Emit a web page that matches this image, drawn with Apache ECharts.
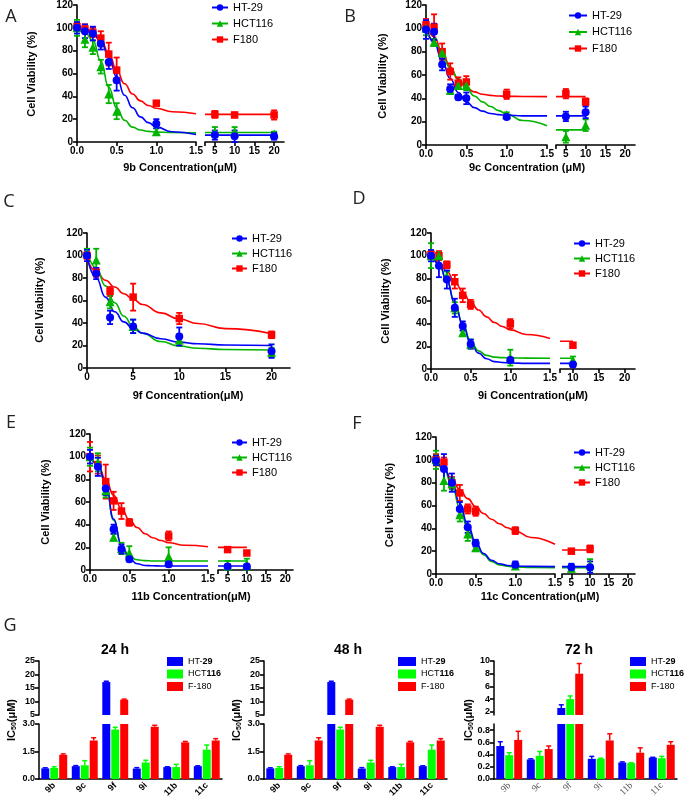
<!DOCTYPE html>
<html><head><meta charset="utf-8">
<script src="https://cdn.jsdelivr.net/npm/echarts@6/dist/echarts.min.js"></script>
<style>html,body{margin:0;padding:0;background:#fff}#c{width:685px;height:800px}</style>
</head><body><div id="c"></div>
<script>
// ===================== DATA =====================
const cellLines = ['HT-29', 'HCT116', 'F180'];
const fitX = [0, 0.1, 0.2, 0.3, 0.4, 0.5, 0.6, 0.7, 0.8, 0.9, 1.0, 1.2, 1.5];

// Panel A - 9b
const A_conc = [0, 0.1, 0.2, 0.3, 0.4, 0.5, 1, 5, 10, 20];
const A_HT29 = [100, 97, 95, 86, 70, 54, 16, 6, 5, 5];
const A_HT29_sd = [5, 6, 6, 5, 6, 9, 4, 4, 5, 3];
const A_HCT116 = [100, 90, 83, 66, 42, 27, 9, 9, 9, 7];
const A_HCT116_sd = [7, 7, 6, 6, 8, 7, 3, 4, 4, 2];
const A_F180 = [101, 99, 96, 91, 77, 63, 34, 24, 23.5, 23.5];
const A_F180_sd = [4, 4, 4, 6, 10, 11, 2, 3, 2, 4];
const A_fit_HT29 = [100, 98.5, 95, 88, 75, 57, 41, 30, 22, 17, 13, 9, 6.5];
const A_fit_HCT116 = [100, 96, 89, 71, 48, 30, 19, 13, 10.5, 9.3, 8.7, 8.3, 8];
const A_fit_F180 = [100, 99, 96, 90, 78, 63, 51, 42, 36, 32, 29.5, 26.5, 24.8];
const A_plateau = [6, 8.3, 24];

// Panel B - 9c
const B_conc = [0, 0.1, 0.2, 0.3, 0.4, 0.5, 1, 5, 10];
const B_HT29 = [99, 97, 69, 48, 41, 40, 24, 24.5, 28];
const B_HT29_sd = [8, 7, 5, 4, 2, 5, 1, 4, 5];
const B_HCT116 = [100, 88, 79, 47, 51, 51, 26, 7, 17];
const B_HCT116_sd = [6, 3, 3, 3, 3, 4, 2, 5, 5];
const B_F180 = [103, 101, 80, 63, 53, 54, 43.5, 44, 37];
const B_F180_sd = [5, 11, 7, 7, 5, 5, 4, 4, 3];
const B_fit_HT29 = [102, 88, 72, 57, 45, 37, 32, 29, 27, 26, 25.5, 25, 25];
const B_fit_HCT116 = [100, 89, 77, 66, 57, 49, 42, 37, 33, 29.5, 26.5, 21, 16.5];
const B_fit_F180 = [104, 93, 80, 67, 56, 49, 45.5, 43.5, 42.5, 42, 41.8, 41.6, 41.5];
const B_plateau = [25, 13, 41.5];

// Panel C - 9f
const C_conc = [0, 1, 2.5, 5, 10, 20];
const C_HT29 = [100, 84, 45, 37, 28, 15];
const C_HT29_sd = [5, 5, 6, 6, 8, 6];
const C_HCT116 = [102, 96, 59, 37, 25, 14];
const C_HCT116_sd = [4, 10, 6, 6, 5, 4];
const C_F180 = [100, 85, 68, 63, 44, 29.5];
const C_F180_sd = [3, 4, 4, 12, 5, 3];
const C_fitX = [0, 1, 2, 3, 4, 5, 6, 8, 10, 12, 15, 20];
const C_fit_HT29 = [99, 80, 63, 50, 41, 35, 31, 26, 23, 21.5, 20.5, 20];
const C_fit_HCT116 = [103, 89, 73, 58, 46, 37, 31, 23.5, 19.5, 17.5, 16.5, 16];
const C_fit_F180 = [97, 86, 78, 72, 66, 61, 56.5, 49, 43.5, 39.5, 35, 30.5];

// Panel D - 9i
const D_conc = [0, 0.1, 0.2, 0.3, 0.4, 0.5, 1, 10];
const D_HT29 = [100, 91, 79, 54, 38, 22, 8, 4];
const D_HT29_sd = [5, 10, 8, 8, 4, 4, 2, 2];
const D_HCT116 = [100, 100, 82, 54, 32, 22, 10, 8];
const D_HCT116_sd = [11, 3, 4, 5, 2, 4, 7, 3];
const D_F180 = [101, 100, 92, 77, 65, 57, 40, 21];
const D_F180_sd = [3, 4, 3, 6, 6, 4, 4, 2];
const D_fit_HT29 = [102, 93, 78, 58, 39, 23, 14, 9, 6.5, 5.7, 5.3, 5, 5];
const D_fit_HCT116 = [102, 93, 78, 58, 40, 24.5, 16, 12, 10.5, 10, 9.8, 9.6, 9.5];
const D_fit_F180 = [102, 94, 86, 77, 68, 59, 52, 46, 41, 37.5, 34.5, 30.5, 27];
const D_plateau = [5, 9.5, 24.5];

// Panel E - 11b
const E_conc = [0, 0.1, 0.2, 0.3, 0.4, 0.5, 1, 5, 10];
const E_HT29 = [100, 91, 72, 36, 18.5, 9.5, 5, 3, 3];
const E_HT29_sd = [6, 8, 6, 4, 4, 2, 2, 2, 2];
const E_HCT116 = [100, 95, 70, 29, 19, 15, 12, 4, 5];
const E_HCT116_sd = [8, 8, 6, 3, 5, 6, 8, 4, 5];
const E_F180 = [100, 93, 78, 61, 52, 42, 30, 18, 15];
const E_F180_sd = [13, 8, 15, 8, 7, 3, 4, 1, 1];
const E_fit_HT29 = [101, 93, 76, 45, 22, 10, 5.5, 4, 3.7, 3.5, 3.5, 3.5, 3.5];
const E_fit_HCT116 = [101, 93, 76, 44, 22, 12, 9, 8.3, 8, 8, 8, 8, 8];
const E_fit_F180 = [101, 93, 80, 66, 54, 44.5, 37.5, 32, 28.5, 26, 24, 21.8, 20.5];
const E_plateau = [3.5, 8, 20];

// Panel F - 11c
const F_conc = [0, 0.1, 0.2, 0.3, 0.4, 0.5, 1, 5, 10];
const F_HT29 = [99.5, 92, 80, 57, 41, 27, 8, 6, 6];
const F_HT29_sd = [4, 13, 8, 6, 5, 3, 3, 3, 5];
const F_HCT116 = [100, 82, 79, 52, 35, 23, 7, 5, 8];
const F_HCT116_sd = [8, 9, 5, 6, 6, 3, 2, 3, 5];
const F_F180 = [100, 98, 80, 71, 57, 55, 38, 20, 22];
const F_F180_sd = [5, 4, 5, 7, 4, 4, 3, 2, 3];
const F_fit_HT29 = [101, 93, 81, 62, 43, 28, 18, 12, 9, 7.5, 7, 6.7, 6.5];
const F_fit_HCT116 = [101, 92, 78, 58, 40, 26, 17, 11, 8, 6.8, 6, 5.7, 5.5];
const F_fit_F180 = [101, 92, 83, 74, 66, 59, 53, 48, 44, 40.5, 37.5, 32, 26];
const F_plateau = [6.5, 5.5, 21];

// Panel G - IC50 (uM)
const compounds = ['9b', '9c', '9f', '9i', '11b', '11c'];
const barNames = ['HT-29', 'HCT116', 'F-180'];
const IC24_HT29 = [0.58, 0.70, 17.2, 0.57, 0.65, 0.70];
const IC24_HT29_sd = [0.03, 0.03, 0.3, 0.05, 0.02, 0.02];
const IC24_HCT116 = [0.60, 0.75, 2.7, 0.90, 0.65, 1.60];
const IC24_HCT116_sd = [0.07, 0.25, 0.12, 0.12, 0.15, 0.25];
const IC24_F180 = [1.32, 2.10, 10.7, 2.85, 2.00, 2.10];
const IC24_F180_sd = [0.05, 0.15, 0.2, 0.08, 0.05, 0.1];
const IC48_HT29 = [0.58, 0.70, 17.2, 0.57, 0.65, 0.70];
const IC48_HT29_sd = [0.03, 0.03, 0.3, 0.05, 0.02, 0.02];
const IC48_HCT116 = [0.60, 0.75, 2.7, 0.90, 0.65, 1.60];
const IC48_HCT116_sd = [0.07, 0.25, 0.12, 0.12, 0.15, 0.25];
const IC48_F180 = [1.32, 2.10, 10.7, 2.85, 2.00, 2.10];
const IC48_F180_sd = [0.05, 0.15, 0.2, 0.08, 0.05, 0.1];
const IC72_HT29 = [0.54, 0.32, 2.6, 0.33, 0.27, 0.35];
const IC72_HT29_sd = [0.07, 0.01, 0.5, 0.04, 0.01, 0.005];
const IC72_HCT116 = [0.39, 0.38, 4.0, 0.33, 0.26, 0.34];
const IC72_HCT116_sd = [0.04, 0.07, 0.5, 0.01, 0.005, 0.03];
const IC72_F180 = [0.64, 0.49, 8.0, 0.63, 0.43, 0.56];
const IC72_F180_sd = [0.14, 0.05, 1.6, 0.11, 0.08, 0.05];

// ===================== BUILD =====================
const FONT = "'Liberation Sans', Arial, sans-serif";
const COL = {'HT-29': '#0000ff', 'HCT116': '#00b400', 'F180': '#ff0000'};
const SYM = {'HT-29': 'circle', 'HCT116': 'triangle', 'F180': 'rect'};
const SSZ = {'HT-29': 8, 'HCT116': 9, 'F180': 7.5};
const BCOL = ['#0000ff', '#00ff00', '#ff0000'];

const option = {animation: false, backgroundColor: '#fff', grid: [], xAxis: [], yAxis: [], series: [], legend: [], graphic: []};

function labelStyle(extra) {
  return Object.assign({color: '#000', fontFamily: FONT, fontWeight: 'bold', fontSize: 10, margin: 4}, extra || {});
}
function lineAxis() { return {onZero: false, lineStyle: {color: '#000', width: 1.6}}; }
function tickStyle(extra) { return Object.assign({show: true, length: 4, lineStyle: {color: '#000', width: 1.6}}, extra || {}); }

function addText(x, y, text, size, weight, opts) {
  opts = opts || {};
  option.graphic.push({
    type: 'text', x: x, y: y, rotation: opts.rot || 0, silent: true,
    style: {text: text, fontSize: size, fontWeight: weight, fontFamily: opts.family || FONT,
      fill: opts.color || '#000', align: 'center', verticalAlign: 'middle', rich: opts.rich}
  });
}

function errSeries(gi, pts, color, cap) {
  return {
    type: 'custom', xAxisIndex: gi, yAxisIndex: gi, data: pts, silent: true, z: 3,
    renderItem: function (params, api) {
      const x = api.value(0), y = api.value(1), e = api.value(2);
      const hi = api.coord([x, y + e]), lo = api.coord([x, y - e]);
      const st = {stroke: color, lineWidth: 1.8};
      return {type: 'group', children: [
        {type: 'line', shape: {x1: hi[0], y1: hi[1], x2: lo[0], y2: lo[1]}, style: st},
        {type: 'line', shape: {x1: hi[0] - cap, y1: hi[1], x2: hi[0] + cap, y2: hi[1]}, style: st},
        {type: 'line', shape: {x1: lo[0] - cap, y1: lo[1], x2: lo[0] + cap, y2: lo[1]}, style: st}
      ]};
    }
  };
}

function linePanel(P) {
  const gIdx = [];
  P.segs.forEach(function (s, i) {
    option.grid.push({left: s.left, top: P.top, width: s.width, height: P.height});
    const gi = option.grid.length - 1;
    gIdx.push(gi);
    const xa = {
      type: 'value', gridIndex: gi, min: s.min, max: s.max,
      axisLine: lineAxis(),
      axisTick: tickStyle(s.ticks ? {customValues: s.ticks} : {}),
      axisLabel: labelStyle(Object.assign({formatter: s.fmt}, s.labels ? {customValues: s.labels} : {})),
      splitLine: {show: false}
    };
    if (s.interval) xa.interval = s.interval;
    option.xAxis.push(xa);
    option.yAxis.push({
      type: 'value', gridIndex: gi, min: 0, max: 120, interval: 20, show: i === 0,
      axisLine: lineAxis(), axisTick: tickStyle(), axisLabel: labelStyle(), splitLine: {show: false}
    });
  });
  const order = [2, 1, 0];
  order.forEach(function (li) {
    const L = P.lines[li];
    const name = cellLines[li];
    const c = COL[name];
    const g0 = gIdx[0];
    option.series.push({
      type: 'line', name: name, xAxisIndex: g0, yAxisIndex: g0,
      data: P.fitX.map(function (x, k) { return [x, L.fit[k]]; }),
      smooth: true, smoothMonotone: 'x', symbol: SYM[name], symbolSize: SSZ[name], showSymbol: false,
      lineStyle: {color: c, width: 1.6}, itemStyle: {color: c}, silent: true, z: 2
    });
    if (P.segs.length > 1) {
      const s = P.segs[1];
      const xs = L.conc.filter(function (x) { return x >= s.min && x <= s.max; });
      option.series.push({
        type: 'line', name: name, xAxisIndex: gIdx[1], yAxisIndex: gIdx[1],
        data: [[s.min, L.plateau], [Math.max.apply(null, xs), L.plateau]],
        symbol: SYM[name], showSymbol: false, lineStyle: {color: c, width: 1.6}, itemStyle: {color: c}, silent: true, z: 2
      });
    }
    P.segs.forEach(function (s, si) {
      const pts = [];
      L.conc.forEach(function (x, k) { if (x >= s.min && x <= s.max) pts.push([x, L.val[k], L.sd[k]]); });
      option.series.push(errSeries(gIdx[si], pts, c, 3));
      option.series.push({
        type: 'scatter', name: name, xAxisIndex: gIdx[si], yAxisIndex: gIdx[si],
        data: pts.map(function (p) { return [p[0], p[1]]; }),
        symbol: SYM[name], symbolSize: SSZ[name], itemStyle: {color: c, opacity: 1}, silent: true, z: 4
      });
    });
  });
  option.legend.push({
    orient: 'vertical', left: P.legend[0], top: P.legend[1], itemWidth: P.legend[2], itemHeight: 8, itemGap: P.legend[3],
    padding: 0, selectedMode: false, data: cellLines,
    textStyle: {fontFamily: FONT, fontSize: 11, color: '#000'}
  });
  addText(P.letter[1], P.letter[2], P.letter[0], 18, 'normal', {family: "'Open Sans', sans-serif", color: '#222'});
  addText(P.xName[1], P.xName[2], P.xName[0], 11, 'bold');
  addText(P.yName[1], P.yName[2], P.yName[0], 11, 'bold', {rot: Math.PI / 2});
}

const fmt1 = function (v) { return v.toFixed(1); };
const fmt0 = function (v) { return String(v); };
function seg2(left, width, min, max, labels, ticks) {
  return {left: left, width: width, min: min, max: max, labels: labels, ticks: ticks, fmt: fmt0};
}
function seg1(left, width) { return {left: left, width: width, min: 0, max: 1.5, interval: 0.5, fmt: fmt1}; }
function mk(conc, vals, sds, fits, plat) {
  return [0, 1, 2].map(function (i) { return {conc: conc, val: vals[i], sd: sds[i], fit: fits[i], plateau: plat ? plat[i] : null}; });
}

linePanel({top: 4, height: 138, segs: [seg1(77, 119), seg2(205, 79, 2.5, 22.5, [5, 10, 15, 20], [2.5, 5, 10, 15, 20])],
  fitX: fitX, lines: mk(A_conc, [A_HT29, A_HCT116, A_F180], [A_HT29_sd, A_HCT116_sd, A_F180_sd], [A_fit_HT29, A_fit_HCT116, A_fit_F180], A_plateau),
  legend: [211, 2, 16, 5], letter: ['A', 11, 17], xName: ['9b Concentration(\u03bcM)', 180, 168], yName: ['Cell Viability (%)', 32, 74]});
linePanel({top: 5, height: 140, segs: [seg1(426, 121), seg2(556, 79, 2.5, 22.5, [5, 10, 15, 20], [2.5, 5, 10, 15, 20])],
  fitX: fitX, lines: mk(B_conc, [B_HT29, B_HCT116, B_F180], [B_HT29_sd, B_HCT116_sd, B_F180_sd], [B_fit_HT29, B_fit_HCT116, B_fit_F180], B_plateau),
  legend: [568, 10, 18, 5.5], letter: ['B', 350, 17], xName: ['9c Concentration (\u03bcM)', 527, 168], yName: ['Cell Viability (%)', 383, 76]});
linePanel({top: 233, height: 135, segs: [seg2(87, 203, 0, 22, [0, 5, 10, 15, 20], [0, 5, 10, 15, 20])],
  fitX: C_fitX, lines: mk(C_conc, [C_HT29, C_HCT116, C_F180], [C_HT29_sd, C_HCT116_sd, C_F180_sd], [C_fit_HT29, C_fit_HCT116, C_fit_F180], null),
  legend: [231, 233, 15, 4], letter: ['C', 9, 202], xName: ['9f Concentration(\u03bcM)', 188, 396], yName: ['Cell Viability (%)', 40, 300]});
linePanel({top: 233, height: 136, segs: [seg1(431, 119), seg2(560, 75, 7.5, 22, [10, 15, 20], [7.5, 10, 15, 20])],
  fitX: fitX, lines: mk(D_conc, [D_HT29, D_HCT116, D_F180], [D_HT29_sd, D_HCT116_sd, D_F180_sd], [D_fit_HT29, D_fit_HCT116, D_fit_F180], D_plateau),
  legend: [573, 238, 16, 4], letter: ['D', 359, 199], xName: ['9i Concentration(\u03bcM)', 533, 396], yName: ['Cell Viability (%)', 386, 301]});
linePanel({top: 434, height: 136, segs: [seg1(90, 118), seg2(218, 75, 2.5, 22, [5, 10, 15, 20], [2.5, 5, 10, 15, 20])],
  fitX: fitX, lines: mk(E_conc, [E_HT29, E_HCT116, E_F180], [E_HT29_sd, E_HCT116_sd, E_F180_sd], [E_fit_HT29, E_fit_HCT116, E_fit_F180], E_plateau),
  legend: [231, 437, 15, 4], letter: ['E', 11, 423], xName: ['11b Concentration(\u03bcM)', 191, 597], yName: ['Cell Viability (%)', 46, 502]});
linePanel({top: 437, height: 137, segs: [seg1(436, 119), seg2(562, 73, 2.5, 22, [5, 10, 15, 20], [2.5, 5, 10, 15, 20])],
  fitX: fitX, lines: mk(F_conc, [F_HT29, F_HCT116, F_F180], [F_HT29_sd, F_HCT116_sd, F_F180_sd], [F_fit_HT29, F_fit_HCT116, F_fit_F180], F_plateau),
  legend: [573, 447, 16, 4], letter: ['F', 357, 424], xName: ['11c Concentration(\u03bcM)', 540, 597], yName: ['Cell viability (%)', 390, 505]});

// ---------- bar panels ----------
const BW = 8, BGAP = 0.12;
function barPanel(P) {
  const gT = option.grid.length;
  option.grid.push({left: P.left, top: 661, width: 183, height: 54});
  option.grid.push({left: P.left, top: 724, width: 183, height: 55});
  const gB = gT + 1;
  option.xAxis.push({type: 'category', gridIndex: gT, data: compounds, show: false});
  option.yAxis.push({type: 'value', gridIndex: gT, min: P.top.min, max: P.top.max,
    axisLine: {show: true, lineStyle: {color: '#000', width: 1.5}}, axisTick: tickStyle({customValues: P.top.labels}),
    axisLabel: labelStyle({customValues: P.top.labels, formatter: fmt0, fontSize: 9}), splitLine: {show: false}});
  option.xAxis.push({type: 'category', gridIndex: gB, data: compounds,
    axisLine: {onZero: false, lineStyle: {color: '#000', width: 1.5}}, axisTick: {show: false},
    axisLabel: P.catStyle});
  option.yAxis.push({type: 'value', gridIndex: gB, min: P.bot.min, max: P.bot.max,
    axisLine: {show: true, lineStyle: {color: '#000', width: 1.5}}, axisTick: tickStyle({customValues: P.bot.labels}),
    axisLabel: labelStyle({customValues: P.bot.labels, formatter: fmt1, fontSize: 9}), splitLine: {show: false}});
  P.data.forEach(function (d, si) {
    const c = BCOL[si];
    const nm = 'bar:' + barNames[si];
    const off = (si - 1) * BW * (1 + BGAP);
    option.series.push({type: 'bar', name: nm, xAxisIndex: gT, yAxisIndex: gT, barWidth: BW, barGap: (BGAP * 100) + '%',
      data: d[0].map(function (v) { return v > P.top.min ? v : '-'; }), itemStyle: {color: c}, clip: true, silent: true});
    option.series.push({type: 'bar', name: nm, xAxisIndex: gB, yAxisIndex: gB, barWidth: BW, barGap: (BGAP * 100) + '%',
      data: d[0].map(function (v) { return Math.min(v, P.bot.max); }), itemStyle: {color: c}, clip: true, silent: true});
    [[gT, function (v) { return v > P.top.min; }], [gB, function (v) { return v < P.bot.max; }]].forEach(function (g) {
      const pts = [];
      d[0].forEach(function (v, k) { if (g[1](v)) pts.push([k, v, d[1][k]]); });
      option.series.push({type: 'custom', xAxisIndex: g[0], yAxisIndex: g[0], data: pts, silent: true, z: 3,
        renderItem: function (params, api) {
          const p0 = api.coord([api.value(0), api.value(1)]);
          const p1 = api.coord([api.value(0), api.value(1) + api.value(2)]);
          const x = p0[0] + off;
          const st = {stroke: c, lineWidth: 1.5};
          return {type: 'group', children: [
            {type: 'line', shape: {x1: x, y1: p0[1], x2: x, y2: p1[1]}, style: st},
            {type: 'line', shape: {x1: x - 2.5, y1: p1[1], x2: x + 2.5, y2: p1[1]}, style: st}
          ]};
        }});
    });
  });
  option.legend.push({
    orient: 'vertical', left: P.legend[0], top: 657, itemWidth: P.legend[1], itemHeight: 9, itemGap: 3.5, padding: 0,
    icon: 'rect', selectedMode: false, data: barNames.map(function (n) { return 'bar:' + n; }),
    formatter: function (n) { return {'bar:HT-29': 'HT-{b|29}', 'bar:HCT116': 'HCT{b|116}', 'bar:F-180': 'F-180'}[n]; },
    textStyle: {fontFamily: FONT, fontSize: 9, color: '#000', rich: {b: {fontFamily: FONT, fontSize: 9, fontWeight: 'bold', color: '#000'}}}
  });
  addText(P.title[1], 650, P.title[0], 14, 'bold');
  addText(P.yname, 720, 'IC{s|50}(\u03bcM)', 11, 'bold', {rot: Math.PI / 2,
    rich: {s: {fontSize: 7, fontWeight: 'bold', fontFamily: FONT, fill: '#000', padding: [5, 0, 0, 0]}}});
}
const catBold = {color: '#000', fontFamily: FONT, fontWeight: 'bold', fontSize: 9, rotate: 45, margin: 5};
const catSerif = {color: '#555', fontFamily: "'Liberation Serif', serif", fontWeight: 'normal', fontSize: 9.5, rotate: 45, margin: 5};
barPanel({left: 39, title: ['24 h', 115], yname: 12, legend: [167, 16], catStyle: catBold,
  top: {min: 5, max: 25, labels: [5, 10, 15, 20, 25]}, bot: {min: 0, max: 3, labels: [0, 1.5, 3]},
  data: [[IC24_HT29, IC24_HT29_sd], [IC24_HCT116, IC24_HCT116_sd], [IC24_F180, IC24_F180_sd]]});
barPanel({left: 264, title: ['48 h', 348], yname: 237, legend: [398, 18], catStyle: catBold,
  top: {min: 5, max: 25, labels: [5, 10, 15, 20, 25]}, bot: {min: 0, max: 3, labels: [0, 1.5, 3]},
  data: [[IC48_HT29, IC48_HT29_sd], [IC48_HCT116, IC48_HCT116_sd], [IC48_F180, IC48_F180_sd]]});
barPanel({left: 494, title: ['72 h', 579], yname: 469, legend: [630, 16], catStyle: catSerif,
  top: {min: 1.5, max: 10, labels: [2, 4, 6, 8, 10]}, bot: {min: 0, max: 0.9, labels: [0, 0.2, 0.4, 0.6, 0.8]},
  data: [[IC72_HT29, IC72_HT29_sd], [IC72_HCT116, IC72_HCT116_sd], [IC72_F180, IC72_F180_sd]]});
addText(10, 626, 'G', 18, 'normal', {family: "'Open Sans', sans-serif", color: '#222'});

const chart = echarts.init(document.getElementById('c'), null, {renderer: 'canvas'});
chart.setOption(option);
</script></body></html>
